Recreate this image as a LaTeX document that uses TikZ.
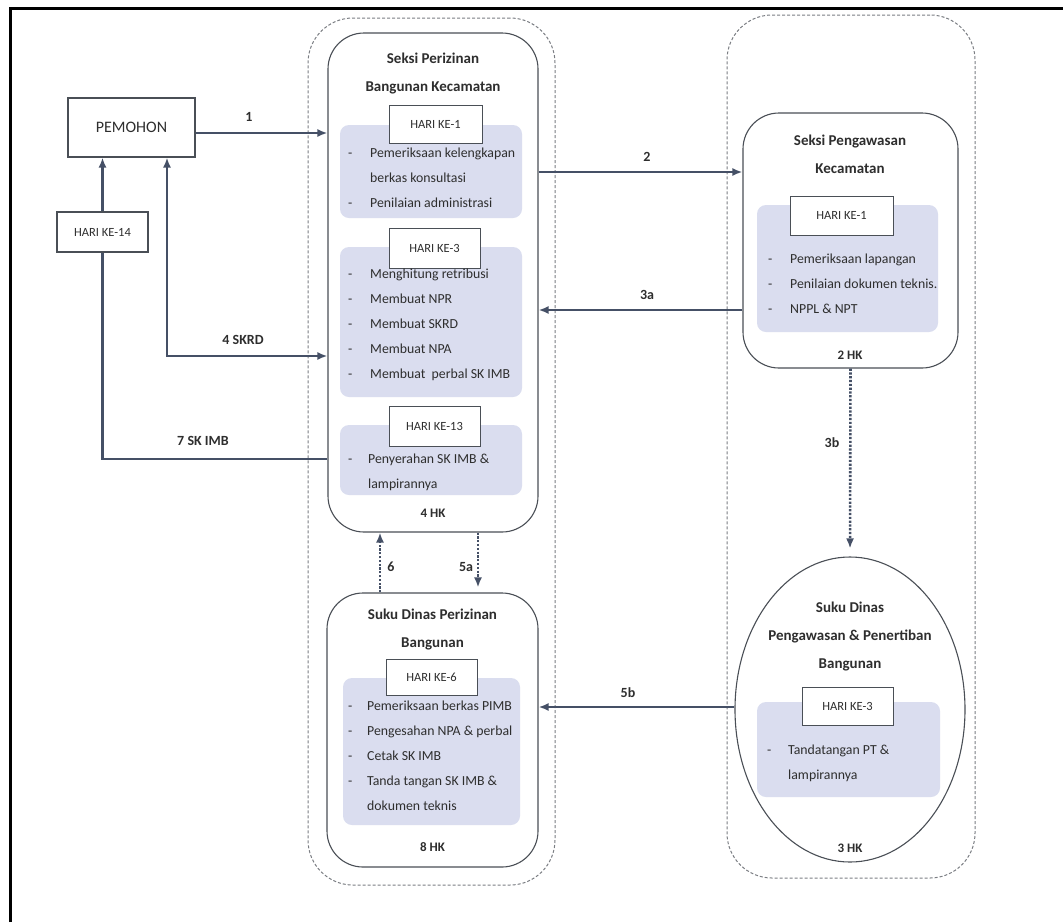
\documentclass[tikz,border=0pt]{standalone}
\usepackage{fontspec}
\setmainfont{Carlito}
\usetikzlibrary{arrows.meta,shapes.geometric}
\definecolor{linec}{HTML}{455066}
\definecolor{boxc}{HTML}{4A4F56}
\definecolor{dashc}{HTML}{7A7D82}
\definecolor{panelc}{HTML}{DADDEF}
\definecolor{txtc}{HTML}{2E2E2E}
\tikzset{
  frameline/.style={line width=3pt, black},
  dashbox/.style={draw=dashc, line width=1pt, dash pattern=on 3pt off 2pt, rounded corners=45pt, inner sep=0pt},
  unitbox/.style={draw=boxc, line width=1.1pt, rounded corners=36pt, fill=white, inner sep=0pt},
  plainbox/.style={draw=boxc, line width=1.1pt, fill=white, inner sep=0pt, text=txtc},
  panel/.style={fill=panelc, rounded corners=9pt, inner sep=0pt},
  harib/.style={draw=boxc, line width=1pt, fill=white, inner sep=0pt, text=txtc, font=\fontsize{12.5}{14}\selectfont},
  titletxt/.style={text=txtc, font=\fontsize{15}{28}\selectfont\bfseries, align=center, inner sep=0pt},
  listtxt/.style={text=txtc, font=\fontsize{13.8}{25}\selectfont, align=left, inner sep=0pt, anchor=north west},
  hktxt/.style={text=txtc, font=\fontsize{13}{15}\selectfont\bfseries, inner sep=0pt},
  lbl/.style={text=txtc, font=\fontsize{14}{16}\selectfont\bfseries, inner sep=0pt},
  arr/.style={draw=linec, line width=2.4pt, -{Latex[length=10pt,width=8pt]}},
  plainline/.style={draw=linec, line width=2.4pt},
  dotarr/.style={draw=linec, line width=2.6pt, dash pattern=on 2.2pt off 1.6pt, -{Latex[length=10pt,width=8pt]}},
}
\newcommand{\bul}{\makebox[22pt][l]{-}}
\newcommand{\ind}{\hspace*{22pt}}
\begin{document}
\begin{tikzpicture}[x=1pt,y=-1pt]
\useasboundingbox (0,0) rectangle (1063,922);
% frame
\draw[frameline] (10,922) -- (10,8) -- (1063,8);

% dashed groups
\node[dashbox, minimum width=247pt, minimum height=867pt] (dashL) at (431.5,451.5) {};
\node[dashbox, minimum width=248pt, minimum height=863pt] (dashR) at (851,446.5) {};

% PEMOHON & HARI KE-14
\node[plainbox, minimum width=127pt, minimum height=59pt, font=\fontsize{16}{18}\selectfont] (pem) at (131.5,127.5) {PEMOHON};
\node[plainbox, minimum width=91pt, minimum height=40pt, font=\fontsize{12.5}{14}\selectfont] (h14) at (102.5,232) {HARI KE-14};

% Seksi Perizinan Bangunan Kecamatan
\node[unitbox, minimum width=210pt, minimum height=499pt] (spb) at (433,282.5) {};
\node[titletxt] (spbt) at (433,74) {Seksi Perizinan\\Bangunan Kecamatan};
\node[panel, minimum width=182pt, minimum height=93pt] (p1) at (431,171.5) {};
\node[panel, minimum width=182pt, minimum height=150pt] (p2) at (431,322) {};
\node[panel, minimum width=182pt, minimum height=70pt] (p3) at (431,460) {};
\node[harib, minimum width=93pt, minimum height=38pt] (hk1) at (435.5,124) {HARI KE-1};
\node[harib, minimum width=91pt, minimum height=40pt] (hk3) at (434.5,248) {HARI KE-3};
\node[harib, minimum width=91pt, minimum height=40pt] (hk13) at (434.5,426) {HARI KE-13};
\node[listtxt] (l1) at (348,148) {\bul Pemeriksaan kelengkapan\\\ind berkas konsultasi\\\bul Penilaian administrasi};
\node[listtxt] (l2) at (348,269) {\bul Menghitung retribusi\\\bul Membuat NPR\\\bul Membuat SKRD\\\bul Membuat NPA\\\bul Membuat\ \ perbal SK IMB};
\node[listtxt] (l3) at (348,454) {\makebox[20pt][l]{-}Penyerahan SK IMB \&\\\hspace*{20pt}lampirannya};
\node[hktxt] (hk4) at (433,513) {4 HK};

% Suku Dinas Perizinan Bangunan
\node[unitbox, minimum width=211pt, minimum height=274pt] (sdp) at (432.5,730) {};
\node[titletxt] (sdpt) at (432.5,629) {Suku Dinas Perizinan\\Bangunan};
\node[panel, minimum width=177pt, minimum height=147pt] (p5) at (431.5,751.5) {};
\node[harib, minimum width=91pt, minimum height=36pt] (hk6) at (431.5,677) {HARI KE-6};
\node[listtxt] (l5) at (348,701) {\makebox[19pt][l]{-}Pemeriksaan berkas PIMB\\\makebox[19pt][l]{-}Pengesahan NPA \& perbal\\\makebox[19pt][l]{-}Cetak SK IMB\\\makebox[19pt][l]{-}Tanda tangan SK IMB \&\\\hspace*{19pt}dokumen teknis};
\node[hktxt] (hk8) at (432.5,847) {8 HK};

% Seksi Pengawasan Kecamatan
\node[unitbox, minimum width=215pt, minimum height=255pt] (spk) at (850.5,240.5) {};
\node[titletxt] (spkt) at (850,154) {Seksi Pengawasan\\Kecamatan};
\node[panel, minimum width=181pt, minimum height=127pt] (p4) at (847.5,268.5) {};
\node[harib, minimum width=103pt, minimum height=39pt] (hkr1) at (841.5,215.5) {HARI KE-1};
\node[listtxt] (l4) at (768,254) {\makebox[22pt][l]{-}Pemeriksaan lapangan\\\makebox[22pt][l]{-}Penilaian dokumen teknis.\\\makebox[22pt][l]{-}NPPL \& NPT};
\node[hktxt] (hk2) at (850,355) {2 HK};

% Suku Dinas Pengawasan & Penertiban Bangunan
\node[ellipse, draw=boxc, line width=1.1pt, fill=white, minimum width=230pt, minimum height=305pt, inner sep=0pt] (ell) at (850,709.5) {};
\node[titletxt] (ellt) at (850,636) {Suku Dinas\\Pengawasan \& Penertiban\\Bangunan};
\node[panel, minimum width=183pt, minimum height=95pt] (p6) at (848.5,749.5) {};
\node[harib, minimum width=91pt, minimum height=38pt] (hkr3) at (847.5,706) {HARI KE-3};
\node[listtxt] (l6) at (767,745) {\makebox[21pt][l]{-}Tandatangan PT \&\\\hspace*{21pt}lampirannya};
\node[hktxt] (hk3b) at (850,848) {3 HK};

% helper levels
\coordinate (y2) at (0,172);
\coordinate (y3a) at (0,310);
\coordinate (y4) at (0,356);
\coordinate (x4) at (167,0);
\coordinate (y7) at (0,459);
\coordinate (y5b) at (0,707);
\coordinate (x5a) at (478,0);
\coordinate (x6) at (380,0);

% connectors
\draw[arr] ([yshift=-5.5pt]pem.east) -- ([yshift=-5.5pt]pem.east -| spb.west);
\draw[arr] (spb.east |- y2) -- (spk.west |- y2);
\draw[arr] (spk.west |- y3a) -- (spb.east |- y3a);
\draw[dotarr, shorten >=8pt] (spk.south) -- (ell.north);
\draw[draw=linec, line width=2.4pt, {Latex[length=10pt,width=8pt]}-{Latex[length=10pt,width=8pt]}] (pem.south -| x4) -- (x4 |- y4) -- (spb.west |- y4);
\draw[plainline] (spb.west |- y7) -- (h14.south |- y7) -- (h14.south);
\draw[arr] (h14.north) -- (h14.north |- pem.south);
\draw[dotarr, shorten >=5pt] (spb.south -| x5a) -- (sdp.north -| x5a);
\draw[dotarr] (sdp.north -| x6) -- (spb.south -| x6);
\draw[arr] (ell.west |- y5b) -- (sdp.east |- y5b);

% labels
\node[lbl] (t1) at (249,117) {1};
\node[lbl] (t2) at (647,157) {2};
\node[lbl] (t3a) at (647,295) {3a};
\node[lbl] (t3b) at (832,443) {3b};
\node[lbl] (t4) at (243,340) {4 SKRD};
\node[lbl] (t5a) at (466,567) {5a};
\node[lbl] (t5b) at (628,693) {5b};
\node[lbl] (t6) at (391,567) {6};
\node[lbl] (t7) at (203,441) {7 SK IMB};
\end{tikzpicture}
\end{document}
